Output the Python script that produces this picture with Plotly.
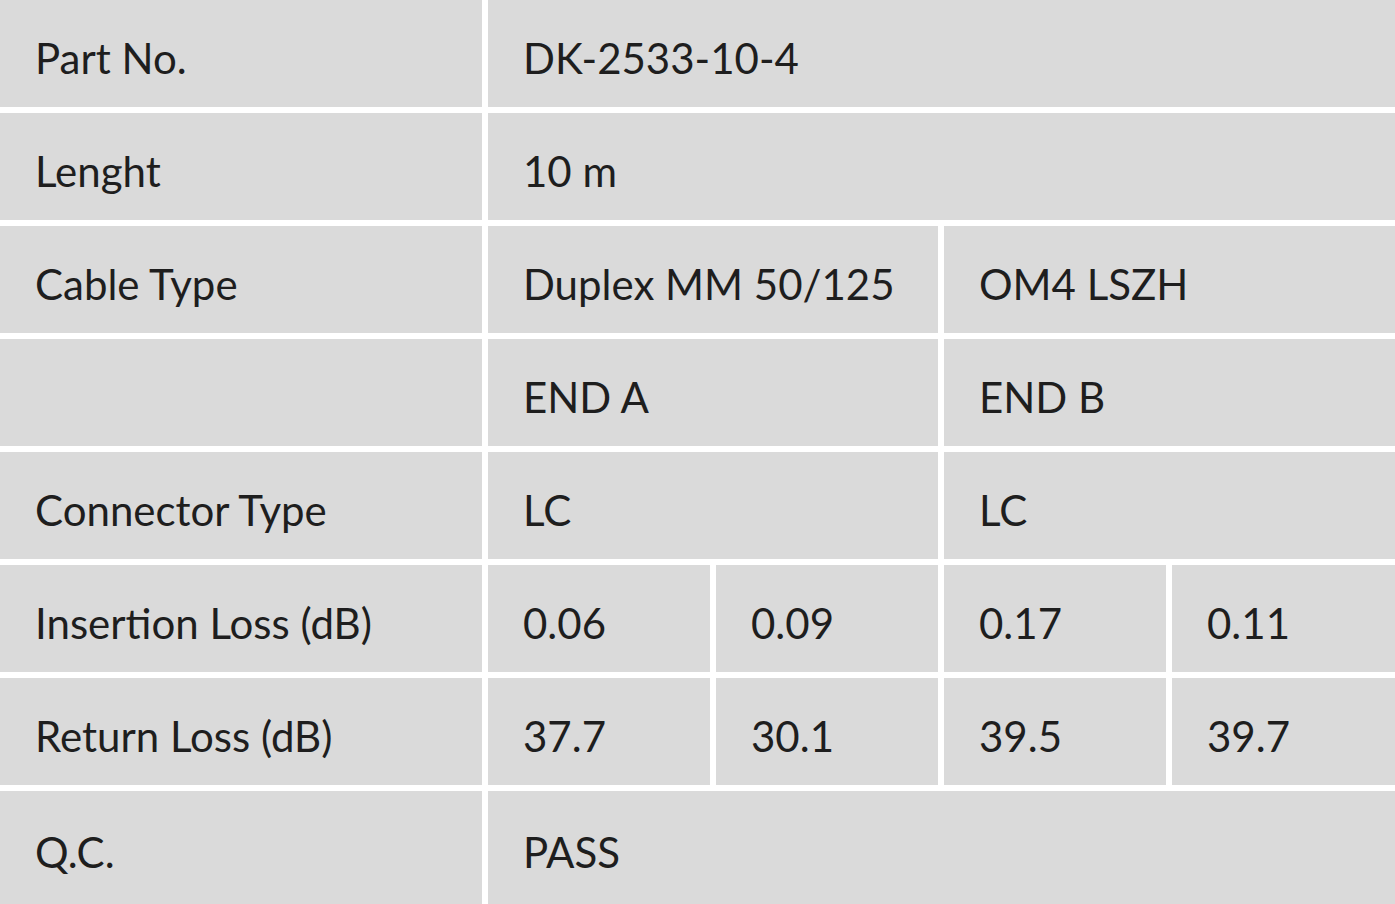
import plotly.graph_objects as go

row_labels = ["Part No.", "Lenght", "Cable Type", "", "Connector Type",
              "Insertion Loss (dB)", "Return Loss (dB)", "Q.C."]
part_no = "DK-2533-10-4"
length = "10 m"
cable_type = ["Duplex MM 50/125", "OM4 LSZH"]
ends = ["END A", "END B"]
connector = ["LC", "LC"]
insertion_loss = ["0.06", "0.09", "0.17", "0.11"]
return_loss = ["37.7", "30.1", "39.5", "39.7"]
qc = "PASS"

col_edges = [0, 485, 713, 941, 1169, 1395]
row_edges = [0, 110, 223, 336, 449, 562, 675, 788, 904]

cells = []
for r, lab in enumerate(row_labels):
    cells.append((r, 0, 1, lab))
cells += [(0, 1, 5, part_no), (1, 1, 5, length),
          (2, 1, 3, cable_type[0]), (2, 3, 5, cable_type[1]),
          (3, 1, 3, ends[0]), (3, 3, 5, ends[1]),
          (4, 1, 3, connector[0]), (4, 3, 5, connector[1]),
          (7, 1, 5, qc)]
for i, v in enumerate(insertion_loss):
    cells.append((5, 1 + i, 2 + i, v))
for i, v in enumerate(return_loss):
    cells.append((6, 1 + i, 2 + i, v))

g = 3
fig = go.Figure()
shapes, anns = [], []
for r, c0, c1, t in cells:
    x0 = col_edges[c0] + (g if c0 > 0 else 0)
    x1 = col_edges[c1] - (g if c1 < 5 else 0)
    y0 = row_edges[r] + (g if r > 0 else 0)
    y1 = row_edges[r + 1] - (g if r < 7 else 0)
    shapes.append(dict(type="rect", x0=x0, x1=x1, y0=y0, y1=y1,
                       fillcolor="#dadada", line=dict(width=0), layer="below"))
    if t:
        anns.append(dict(x=x0 + 33, y=(y0 + y1) / 2 + 4, text=t, showarrow=False,
                         xanchor="left", yanchor="middle",
                         font=dict(family="Lato", size=42, color="#1e1e1e")))

fig.update_layout(width=1395, height=904, margin=dict(l=0, r=0, t=0, b=0),
                  paper_bgcolor="white", plot_bgcolor="white",
                  shapes=shapes, annotations=anns, showlegend=False,
                  xaxis=dict(range=[0, 1395], visible=False, fixedrange=True),
                  yaxis=dict(range=[904, 0], visible=False, fixedrange=True))
fig.write_html("out.html", config={"displayModeBar": False},
               post_script="document.body.style.margin='0';")
